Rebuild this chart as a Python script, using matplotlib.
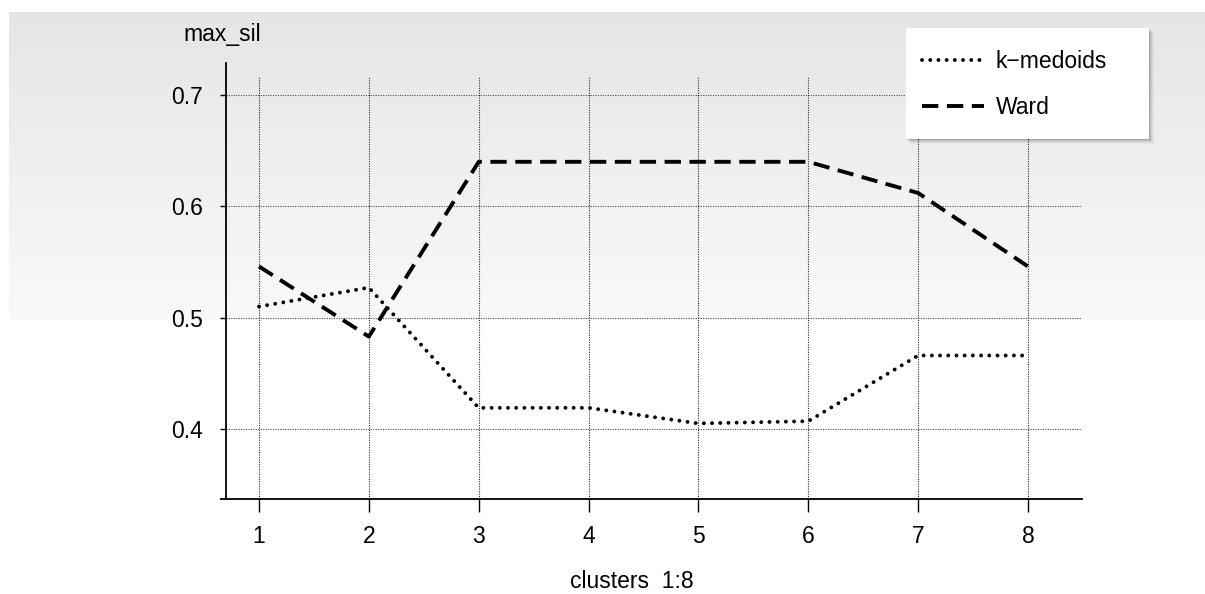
import matplotlib.pyplot as plt
from matplotlib.patches import Rectangle
import numpy as np

clusters = [1, 2, 3, 4, 5, 6, 7, 8]
kmedoids = [0.510, 0.527, 0.419, 0.419, 0.405, 0.407, 0.466, 0.466]
ward = [0.546, 0.483, 0.640, 0.640, 0.640, 0.640, 0.612, 0.546]
yticks = [0.4, 0.5, 0.6, 0.7]

plt.rcParams['font.family'] = ['Liberation Sans Narrow', 'Liberation Sans', 'DejaVu Sans']
FS = 16.5

W, H = 1205, 594
fig = plt.figure(figsize=(W / 100, H / 100), dpi=100)

# gray-to-white gradient in the upper part of the figure
bg = fig.add_axes([9 / W, 1 - 320 / H, 1 - 9 / W, (320 - 12) / H], zorder=-10)
col = np.linspace(0.898, 0.976, 200).reshape(-1, 1)
img = np.dstack([col, col + 0.002, col + 0.004]).repeat(2, axis=1)
bg.imshow(np.clip(img, 0, 1), aspect='auto', interpolation='bilinear')
bg.set_axis_off()

# axes: y axis at px 226, x axis at px 499, right end 1082, top 63
px_unit = 109.86   # px per cluster
py_unit = 1113.0   # px per 1.0 of max_sil
x0 = 1 - 33 / px_unit
x1 = 8 + 54 / px_unit
y0 = 0.4 - 70 / py_unit
y1 = 0.7 + 32 / py_unit
ax = fig.add_axes([226 / W, 1 - 499 / H, (1082 - 226) / W, (499 - 63) / H])
ax.patch.set_alpha(0)
ax.set_xlim(x0, x1)
ax.set_ylim(y0, y1)

# grid
for y in yticks:
    ax.plot([x0, x1], [y, y], color='0.3', lw=0.8, ls=(0, (1, 1.2)), zorder=1)
for x in clusters:
    ax.plot([x, x], [y0, 0.7 + 19 / py_unit], color='0.15', lw=0.8, ls=(0, (1, 1.2)), zorder=1)

l1, = ax.plot(clusters, kmedoids, color='black', lw=2.8, linestyle=(0, (0.01, 2.1)),
              dash_capstyle='round', zorder=3)
l2, = ax.plot(clusters, ward, color='black', lw=2.8, linestyle=(0, (4.2, 2.2)),
              dash_capstyle='butt', zorder=3)

for s in ['top', 'right']:
    ax.spines[s].set_visible(False)
ax.spines['bottom'].set_linewidth(1.3)
ax.spines['left'].set_linewidth(1.3)
# x axis line runs a little past the y axis
ax.plot([x0 - 6 / px_unit, x0], [y0, y0], color='black', lw=1.3, clip_on=False,
        solid_capstyle='butt')

ax.set_xticks(clusters)
ax.set_yticks(yticks)
ax.set_yticklabels([f'{v:.1f}' for v in yticks])
ax.tick_params(axis='x', length=9.4, width=1.0, pad=9, labelsize=FS)
ax.tick_params(axis='y', length=4.3, width=1.0, pad=12, labelsize=FS)

fig.text(222 / W, 1 - 35 / H, 'max_sil', ha='center', va='center', fontsize=FS)
fig.text(632 / W, 1 - 582 / H, 'clusters  1:8', ha='center', va='center', fontsize=FS)

# legend box with soft shadow
lx, ly, lw_, lh = 906, 28, 243, 111
for i, a in enumerate([0.10, 0.08, 0.06, 0.04, 0.03]):
    d = i + 1
    fig.patches.append(Rectangle(((lx + d) / W, 1 - (ly + lh + d) / H), lw_ / W, lh / H,
                                 transform=fig.transFigure, facecolor='black', alpha=a,
                                 edgecolor='none', zorder=5))
fig.patches.append(Rectangle((lx / W, 1 - (ly + lh) / H), lw_ / W, lh / H,
                             transform=fig.transFigure, facecolor='white',
                             edgecolor='none', zorder=6))

leg = fig.legend([l1, l2], ['k\u2212medoids', 'Ward'], loc='upper left',
                 bbox_to_anchor=((lx + 6) / W, 1 - (ly + 12) / H), fontsize=FS,
                 frameon=False, borderpad=0.45, handlelength=2.7, handletextpad=0.5,
                 labelspacing=1.0, borderaxespad=0)
leg.set_zorder(7)

fig.savefig('out.png', dpi=100)
